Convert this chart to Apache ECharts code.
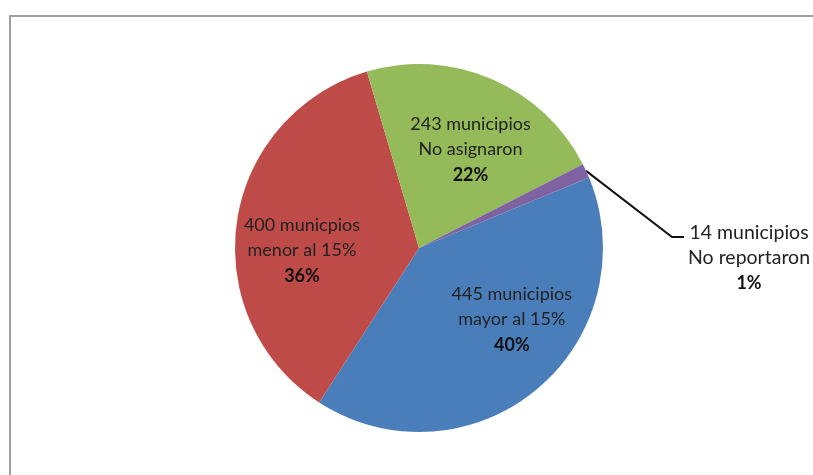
<!DOCTYPE html>
<html>
<head>
<meta charset="utf-8">
<script src="https://cdn.jsdelivr.net/npm/echarts@6/dist/echarts.min.js"></script>
<style>
  html, body { margin: 0; padding: 0; background: #fff; }
  #main { width: 813px; height: 475px; }
</style>
</head>
<body>
<div id="main"></div>
<script>
// slices, clockwise from the blue one
const names = ['445 municipios\nmayor al 15%', '400 municpios\nmenor al 15%', '243 municipios\nNo asignaron', '14 municipios\nNo reportaron']
const values = [445, 400, 243, 14]
const colors = ['#4A7EBB', '#BE4B48', '#94BA5A', '#7F62A1']
// label nudges from the default inside spot
const offsets = [[32, -1], [-23, 17], [14, -11], [0, 0]]

const chart = echarts.init(document.getElementById('main'))

const data = values.map((v, i) => {
    const item = {
        value: v,
        name: names[i],
        itemStyle: {color: colors[i]},
        label: {offset: offsets[i]}
    }
    if (i === 3) {
        item.label = {
            position: 'outside',
            rich: {
                a: {fontFamily: 'Lato', fontSize: 19.5, color: '#222', lineHeight: 25, align: 'center'},
                b: {fontFamily: 'Lato', fontSize: 18, fontWeight: 'bold', color: '#111', lineHeight: 27, align: 'center'}
            }
        }
        item.labelLine = {show: true, length: 20, length2: 10, lineStyle: {color: '#111', width: 2}}
    }
    return item
})

const option = {
    animation: false,
    graphic: [{
        type: 'rect',
        shape: {x: 10, y: 16, width: 830, height: 480},
        style: {fill: 'none', stroke: '#a0a0a0', lineWidth: 2}
    }],
    series: [{
        type: 'pie',
        center: [419, 248],
        radius: 184,
        startAngle: 22.5,
        clockwise: true,
        avoidLabelOverlap: false,
        label: {
            show: true,
            position: 'inside',
            formatter: p => '{a|' + p.name + '}\n{b|' + Math.round(p.percent) + '%}',
            rich: {
                a: {fontFamily: 'Lato', fontSize: 18, color: '#222', lineHeight: 25, align: 'center'},
                b: {fontFamily: 'Lato', fontSize: 18, fontWeight: 'bold', color: '#111', lineHeight: 27, align: 'center'}
            }
        },
        labelLine: {show: false},
        labelLayout: p => {
            if (p.dataIndex === 3) {
                const a = p.labelLinePoints ? p.labelLinePoints[0] : [592, 172]
                return {
                    x: 688, y: 220, align: 'left', verticalAlign: 'top',
                    labelLinePoints: [a, [672, 237], [684, 237]]
                }
            }
        },
        itemStyle: {borderWidth: 0},
        emphasis: {disabled: true},
        data: data
    }]
}

chart.setOption(option)
</script>
</body>
</html>
